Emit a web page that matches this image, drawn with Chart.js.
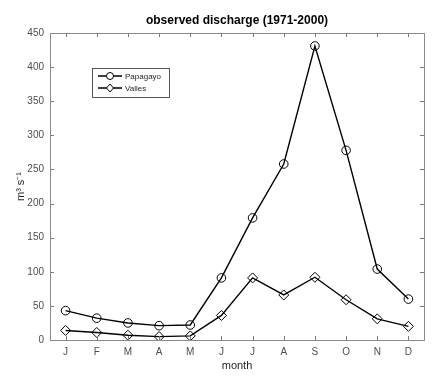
<!DOCTYPE html>
<html>
<head>
<meta charset="utf-8">
<script src="https://cdn.jsdelivr.net/npm/chart.js@4"></script>
<style>
  html, body { margin: 0; padding: 0; background: #fff; }
  #wrap { width: 442px; height: 379px; }
</style>
</head>
<body>
<div id="wrap"><canvas id="discharge" width="442" height="379"></canvas></div>
<script>
var months = ["J", "F", "M", "A", "M", "J", "J", "A", "S", "O", "N", "D"];
var papagayo = [43, 32, 25, 21, 22, 91, 179, 258, 431, 278, 104, 60];
var valles = [14, 11, 7, 5, 6, 36, 91, 66, 92, 59, 31, 20];
var yTicks = [0, 50, 100, 150, 200, 250, 300, 350, 400, 450];
var titleText = "observed discharge (1971-2000)";
var fontFam = "'Liberation Sans', Arial, sans-serif";

// box round the plot with ticks pointing inwards, matlab style
var boxTicks = {
  id: "boxTicks",
  afterDraw: function(chart) {
    var c = chart.ctx, a = chart.chartArea;
    var xs = chart.scales.x, ys = chart.scales.y;
    c.save();
    c.strokeStyle = "#7a7a7a";
    c.lineWidth = 1;
    c.beginPath();
    yTicks.forEach(function(v) {
      var py = Math.round(ys.getPixelForValue(v)) + 0.5;
      c.moveTo(a.left, py); c.lineTo(a.left + 4, py);
      c.moveTo(a.right, py); c.lineTo(a.right - 4, py);
    });
    months.forEach(function(m, i) {
      var px = Math.round(xs.getPixelForValue(i)) + 0.5;
      c.moveTo(px, a.bottom); c.lineTo(px, a.bottom - 4);
      c.moveTo(px, a.top); c.lineTo(px, a.top + 4);
    });
    c.stroke();
    c.strokeStyle = "#8a8a8a";
    c.strokeRect(Math.round(a.left) + 0.5, Math.round(a.top) + 0.5,
                 Math.round(a.right - a.left), Math.round(a.bottom - a.top));
    // title centred over the axes
    c.fillStyle = "#000";
    c.font = "bold 12px " + fontFam;
    c.textAlign = "center";
    c.textBaseline = "middle";
    c.fillText(titleText, (a.left + a.right) / 2, 21);
    c.restore();
  }
};

// legend drawn inside the axes
var boxLegend = {
  id: "boxLegend",
  afterDraw: function(chart) {
    var c = chart.ctx;
    var x0 = 92, y0 = 68, w = 77, h = 29;
    c.save();
    c.fillStyle = "#fff";
    c.fillRect(x0, y0, w, h);
    c.strokeStyle = "#555";
    c.lineWidth = 1;
    c.strokeRect(x0 + 0.5, y0 + 0.5, w, h);
    chart.data.datasets.forEach(function(ds, i) {
      var yy = y0 + 8 + i * 12;
      c.strokeStyle = "#000";
      c.lineWidth = 1.5;
      c.beginPath();
      c.moveTo(x0 + 6, yy); c.lineTo(x0 + 30, yy);
      c.stroke();
      c.lineWidth = 1;
      c.beginPath();
      if (i === 0) {
        c.arc(x0 + 18, yy, 3.5, 0, Math.PI * 2);
      } else {
        c.moveTo(x0 + 18, yy - 4); c.lineTo(x0 + 21.5, yy);
        c.lineTo(x0 + 18, yy + 4); c.lineTo(x0 + 14.5, yy); c.closePath();
      }
      c.fillStyle = "#fff";
      c.fill();
      c.stroke();
      c.fillStyle = "#262626";
      c.font = "8px " + fontFam;
      c.textBaseline = "middle";
      c.fillText(ds.label, x0 + 33, yy + 0.5);
    });
    c.restore();
  }
};

new Chart("discharge", {
  type: "line",
  data: {
    labels: months,
    datasets: [{
      label: "Papagayo",
      data: papagayo,
      borderColor: "#000",
      borderWidth: 1.4,
      pointStyle: "circle",
      pointRadius: 4.3,
      pointBorderWidth: 1,
      pointBackgroundColor: "rgba(255,255,255,0)",
      pointBorderColor: "#000",
      tension: 0
    }, {
      label: "Valles",
      data: valles,
      borderColor: "#000",
      borderWidth: 1.4,
      pointStyle: "rectRot",
      pointRadius: 5,
      pointBorderWidth: 1,
      pointBackgroundColor: "rgba(255,255,255,0)",
      pointBorderColor: "#000",
      tension: 0
    }]
  },
  options: {
    responsive: false,
    animation: false,
    layout: { padding: { left: 0, right: 18, top: 33, bottom: 0 } },
    plugins: {
      legend: { display: false },
      tooltip: { enabled: false },
      title: { display: false }
    },
    scales: {
      x: {
        offset: true,
        grid: { display: false, drawTicks: false },
        border: { display: false },
        ticks: {
          color: "#4d4d4d",
          font: { family: fontFam, size: 10 },
          padding: 6,
          maxRotation: 0
        },
        title: {
          display: true,
          text: "month",
          color: "#262626",
          font: { family: fontFam, size: 11 },
          padding: { top: 0, bottom: 6 }
        },
        afterFit: function(s) { s.height = 39; }
      },
      y: {
        min: 0,
        max: 450,
        grid: { display: false, drawTicks: false },
        border: { display: false },
        afterBuildTicks: function(s) {
          s.ticks = yTicks.map(function(v) { return { value: v }; });
        },
        ticks: {
          color: "#4d4d4d",
          font: { family: fontFam, size: 10 },
          padding: 6
        },
        title: {
          display: true,
          text: "m³ s⁻¹",
          color: "#262626",
          font: { family: fontFam, size: 11 },
          padding: { top: 14, bottom: 0 }
        },
        afterFit: function(s) { s.width = 50; }
      }
    }
  },
  plugins: [boxTicks, boxLegend]
});
</script>
</body>
</html>
